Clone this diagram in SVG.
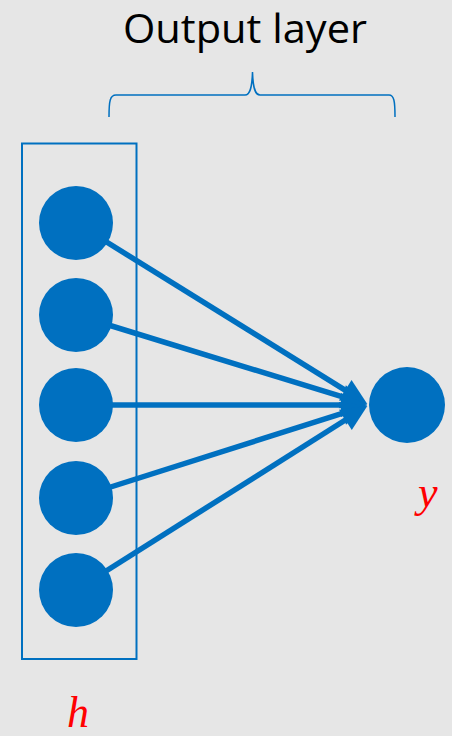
<svg xmlns="http://www.w3.org/2000/svg" width="452" height="736" viewBox="0 0 452 736">
<style>
.node{fill:#0070C0}
.conn{stroke:#0070C0;stroke-width:5.5;fill:none;marker-end:url(#ah)}
.math{font-family:"Liberation Serif","DejaVu Serif",serif;font-style:italic;font-size:44px;fill:#FF0000}
.title{font-family:"Open Sans","Liberation Sans",sans-serif;font-size:40px;fill:#000}
</style>
<defs>
<marker id="ah" markerUnits="userSpaceOnUse" markerWidth="28" markerHeight="26" refX="14" refY="12" orient="auto" overflow="visible">
<path d="M0,0 L26,12 L0,24 z" fill="#0070C0"/>
</marker>
</defs>
<rect width="452" height="736" fill="#E6E6E6"/>
<g id="title">
<text class="title" x="123" y="42.5" textLength="244" lengthAdjust="spacingAndGlyphs">Output layer</text>
<path d="M109,117 C109,101 110,95 116,95 L245,95 C250,95 252,88 252.5,72 C253,88 255,95 260,95 L389,95 C394,95 395,101 395,117" fill="none" stroke="#0070C0" stroke-width="1.5"/>
</g>
<g id="hidden-layer-box">
<rect x="22" y="143.5" width="114.5" height="515.5" fill="none" stroke="#0070C0" stroke-width="2"/>
</g>
<g id="connectors">
<line class="conn" x1="76" y1="223" x2="357.1" y2="397.6"/>
<line class="conn" x1="76" y1="315" x2="355.7" y2="400.9"/>
<line class="conn" x1="76" y1="405" x2="355" y2="405"/>
<line class="conn" x1="76" y1="498" x2="355.7" y2="409.2"/>
<line class="conn" x1="76" y1="590" x2="357.2" y2="412.5"/>
</g>
<g id="h1"><circle class="node" cx="76" cy="223" r="37"/></g>
<g id="h2"><circle class="node" cx="76" cy="315" r="37"/></g>
<g id="h3"><circle class="node" cx="76" cy="405" r="37"/></g>
<g id="h4"><circle class="node" cx="76" cy="498" r="37"/></g>
<g id="h5"><circle class="node" cx="76" cy="590" r="37"/></g>
<g id="y-node"><circle class="node" cx="407" cy="405" r="38"/></g>
<g id="labels">
<text class="math" x="418" y="507">y</text>
<text class="math" x="67" y="727">h</text>
</g>
</svg>
